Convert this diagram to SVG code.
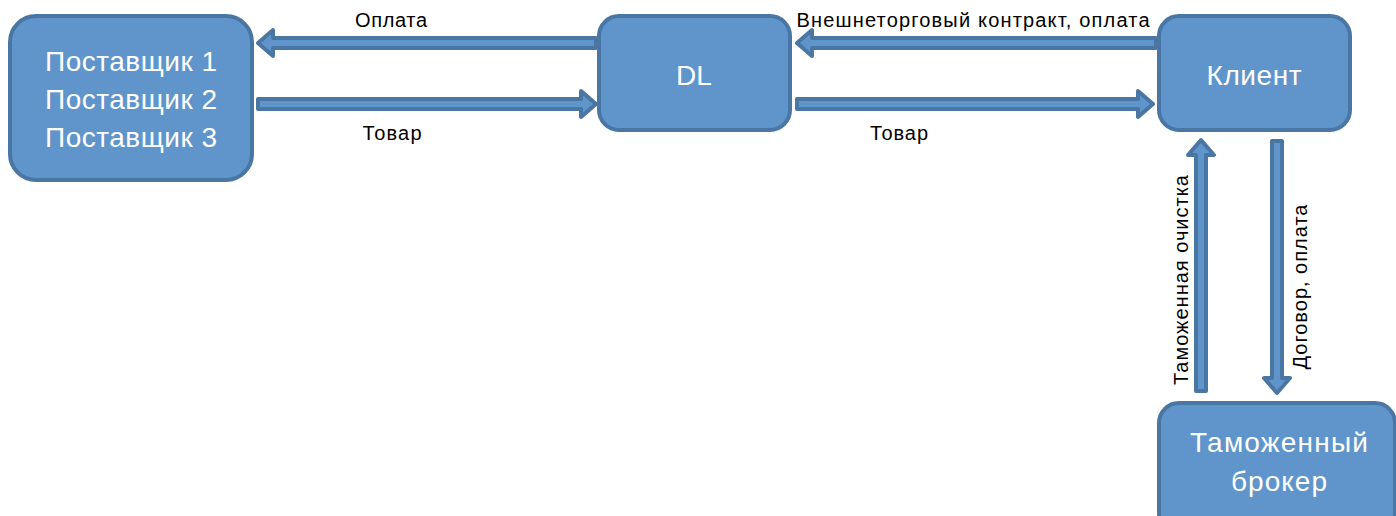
<svg xmlns="http://www.w3.org/2000/svg" width="1396" height="516" viewBox="0 0 1396 516">
<style>
.box{fill:#5f95ca;stroke:#4a76a3;stroke-width:4}
.arr{fill:#5f95ca;stroke:#4a76a3;stroke-width:4;stroke-linejoin:round}
.nt{font-family:"Liberation Sans",Arial,sans-serif;font-size:28px;fill:#fff;text-anchor:middle}
.lt{font-family:"Liberation Sans",Arial,sans-serif;font-size:20px;fill:#000;text-anchor:middle}
</style>
<rect width="1396" height="516" fill="#fff"/>
<g id="connectors">
<polygon class="arr" points="258,43 273,30 273,38 596,38 596,48 273,48 273,56"/>
<polygon class="arr" points="258,99 581,99 581,91 596,104 581,117 581,109 258,109"/>
<polygon class="arr" points="797,43 812,30 812,38 1156,38 1156,48 812,48 812,56"/>
<polygon class="arr" points="797,99 1138,99 1138,91 1153,104 1138,117 1138,109 797,109"/>
<polygon class="arr" points="1201,140 1214,155 1206,155 1206,391 1196,391 1196,155 1188,155"/>
<polygon class="arr" points="1272,141 1282,141 1282,378 1290,378 1277,393 1264,378 1272,378"/>
<text class="lt" x="391" y="27" textLength="72">Оплата</text>
<text class="lt" x="392" y="140" textLength="59">Товар</text>
<text class="lt" x="973" y="27" textLength="353">Внешнеторговый контракт, оплата</text>
<text class="lt" x="899" y="140" textLength="58">Товар</text>
<text class="lt" transform="translate(1188,280) rotate(-90)" textLength="210">Таможенная очистка</text>
<text class="lt" transform="translate(1307,287) rotate(-90)" textLength="165">Договор, оплата</text>
</g>
<g id="supplier">
<rect class="box" x="10" y="16" width="242" height="164" rx="26"/>
<text class="nt" x="131" y="71" textLength="172">Поставщик 1</text>
<text class="nt" x="131" y="109" textLength="172">Поставщик 2</text>
<text class="nt" x="131" y="147" textLength="172">Поставщик 3</text>
</g>
<g id="dl">
<rect class="box" x="599" y="16" width="191" height="114" rx="20"/>
<text class="nt" x="694" y="85">DL</text>
</g>
<g id="client">
<rect class="box" x="1159" y="16" width="191" height="114" rx="20"/>
<text class="nt" x="1254" y="85" textLength="95">Клиент</text>
</g>
<g id="broker">
<rect class="box" x="1159" y="403" width="236" height="130" rx="20"/>
<text class="nt" x="1279" y="452" textLength="178">Таможенный</text>
<text class="nt" x="1279" y="491" textLength="96">брокер</text>
</g>
</svg>
